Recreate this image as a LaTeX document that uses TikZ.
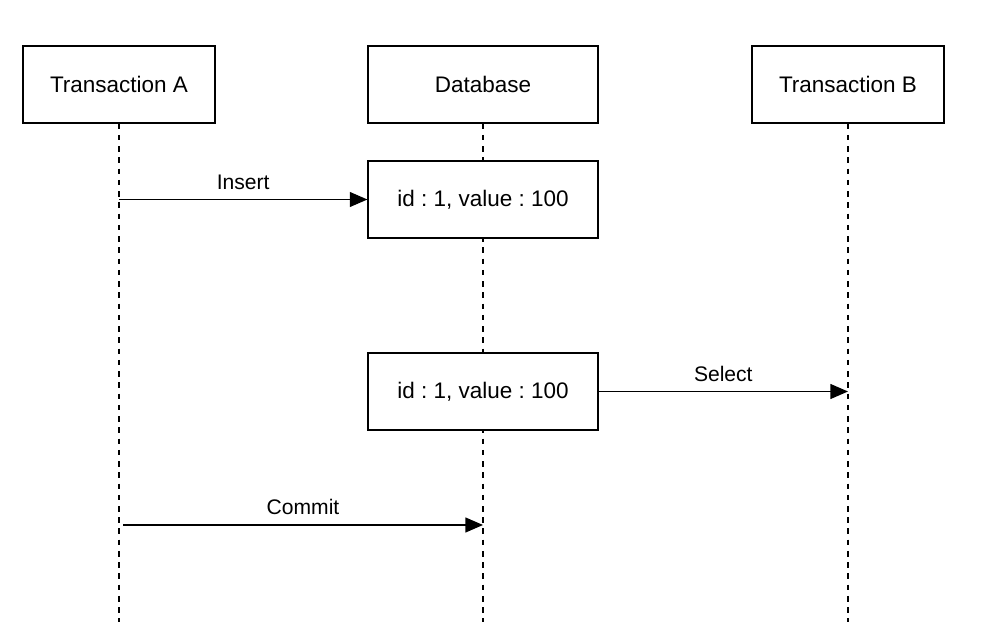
\documentclass[tikz,border=0pt]{standalone}
\usepackage{fontspec}
\setmainfont{Liberation Sans}
\usetikzlibrary{positioning, arrows.meta}
\frenchspacing

\tikzset{
    actor/.style={draw, rectangle, line width=0.7pt, minimum width=3.84cm, minimum height=1.54cm, font=\fontsize{12.8}{15}\selectfont},
    store/.style={actor, minimum width=4.6cm},
    record/.style={draw, rectangle, fill=white, line width=0.7pt, minimum width=4.6cm, minimum height=1.54cm, font=\fontsize{12.8}{15}\selectfont},
    lifeline/.style={dashed, dash pattern=on 3.2pt off 3.2pt, line width=0.6pt},
    msg/.style={line width=0.7pt, -{Triangle[length=10pt,width=8.5pt]}},
    msglabel/.style={font=\fontsize{12}{14}\selectfont, above, yshift=2pt}
}

\begin{document}
\begin{tikzpicture}
\useasboundingbox (0,0) rectangle (19.96,-12.88);

% participants
\node[actor] (ta) at (2.38,-1.69) {Transaction A};
\node[store] (db) at (9.66,-1.69) {Database};
\node[actor] (tb) at (16.96,-1.69) {Transaction B};

% lifelines
\coordinate (taend) at (2.38,-12.44);
\coordinate (dbend) at (9.66,-12.44);
\coordinate (tbend) at (16.96,-12.44);
\draw[lifeline] (ta.south) -- (taend);
\draw[lifeline] (db.south) -- (dbend);
\draw[lifeline] (tb.south) -- (tbend);

% database states
\node[record] (rowone) at (9.66,-3.99) {id : 1, value : 100};
\node[record] (rowtwo) at (9.66,-7.83) {id : 1, value : 100};

% messages
\coordinate (insfrom) at (2.38,-3.99);
\draw[msg] (insfrom) -- node[msglabel] {Insert} (rowone.west);

\coordinate (selto) at (16.96,-7.83);
\draw[msg] (rowtwo.east) -- node[msglabel] {Select} (selto);

\coordinate (comfrom) at (2.46,-10.5);
\coordinate (comto) at (9.66,-10.5);
\draw[msg] (comfrom) -- node[msglabel] {Commit} (comto);
\end{tikzpicture}
\end{document}
